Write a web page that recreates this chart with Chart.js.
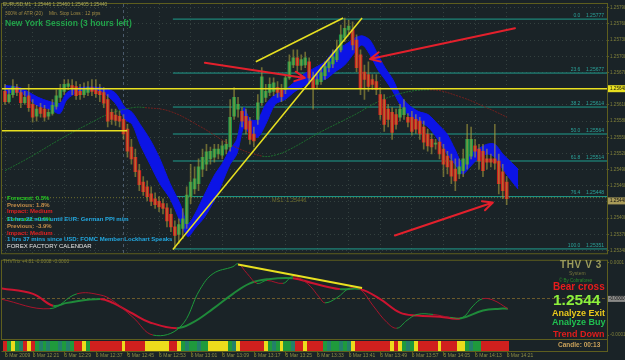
<!DOCTYPE html>
<html>
<head>
<meta charset="utf-8">
<script src="https://cdn.jsdelivr.net/npm/chart.js@4.4.1/dist/chart.umd.min.js"></script>
<style>
body { margin: 0; width: 625px; height: 360px; overflow: hidden; position: relative; background: #1a2327; }
canvas { position: absolute; left: 0; }
#main { top: 0; }
#osc { top: 257px; }
.t { position: absolute; white-space: nowrap; line-height: 1; font-family: "Liberation Sans", sans-serif; }
.b { font-weight: bold; }
</style>
</head>
<body>
<canvas id="main" width="625" height="257"></canvas>
<canvas id="osc" width="625" height="103"></canvas>

<div class="t" style="left:3px;top:3px;font-size:4.8px;color:#a9a95e">EURUSD,M1&nbsp; 1.25446 1.25460 1.25405 1.25440</div>
<div class="t" style="left:5px;top:12px;font-size:4.8px;color:#a08a44">300% of ATR (20)</div>
<div class="t" style="left:49px;top:12px;font-size:4.8px;color:#a08a44">Min. Stop Loss :</div>
<div class="t" style="left:85px;top:12px;font-size:4.8px;color:#a08a44">12 pips</div>
<div class="t b" style="left:5px;top:19px;font-size:8.5px;color:#22a24a">New York Session (3 hours left)</div>

<div class="t b" style="left:7px;top:195px;font-size:6px;color:#22cc22">Forecast: 0.3%</div>
<div class="t b" style="left:7px;top:202px;font-size:6px;color:#c8904a">Previous: 1.8%</div>
<div class="t b" style="left:7px;top:208px;font-size:6px;color:#e02222">Impact: Medium</div>
<div class="t b" style="left:7px;top:216px;font-size:6px;color:#22cc22">Forecast: -0.6%</div>
<div class="t b" style="left:7px;top:216px;font-size:6px;color:#22a8e0">11 hrs 22 mins until EUR: German PPI m/m</div>
<div class="t b" style="left:7px;top:223px;font-size:6px;color:#c8904a">Previous: -3.9%</div>
<div class="t b" style="left:7px;top:230px;font-size:6px;color:#e02222">Impact: Medium</div>
<div class="t b" style="left:7px;top:236px;font-size:6px;color:#22a8e0">1 hrs 37 mins since USD: FOMC Member Lockhart Speaks</div>
<div class="t" style="left:7px;top:243px;font-size:6px;color:#e6e6e6">FOREX FACTORY CALENDAR</div>
<div class="t" style="left:272px;top:198px;font-size:5.5px;color:#6e6e2e">MS1: 1.25446</div>

<div class="t" style="left:3px;top:260px;font-size:4.8px;color:#7e7e3a">THVTrix +4.81 -0.0008 -0.0000</div>
<div class="t b" style="left:560px;top:260px;font-size:10px;letter-spacing:0.6px;color:#9c9c5c">THV V 3</div>
<div class="t" style="left:569px;top:270.5px;font-size:5px;color:#74743a">System</div>
<div class="t" style="left:559px;top:278.5px;font-size:4.5px;color:#2a8a2a">© By Cobraforex</div>
<div class="t b" style="left:553px;top:282px;font-size:10px;color:#e81c1c">Bear cross</div>
<div class="t b" style="left:553px;top:291.5px;font-size:15.5px;color:#8cf03c">1.2544</div>
<div class="t b" style="left:552px;top:309px;font-size:9px;color:#e8c81c">Analyze Exit</div>
<div class="t b" style="left:552px;top:318px;font-size:9px;color:#20c050">Analyze Buy</div>
<div class="t b" style="left:553px;top:330px;font-size:9px;color:#e01c1c">Trend Down</div>
<div class="t b" style="left:558px;top:342px;font-size:6.5px;color:#c8a05a">Candle: 00:13</div>

<script>
// EURUSD M1 candles, one per minute from 12:14
const opens = [
    1.25643,1.25624,1.25637,1.25650,1.25641,1.25622,1.25635,1.25619,1.25597,1.25613,1.25610,1.25597,1.25602,1.25615,1.25632,1.25643,
    1.25652,1.25654,1.25652,1.25643,1.25637,1.25641,1.25650,1.25645,1.25643,1.25641,1.25628,1.25604,1.25599,1.25597,1.25591,1.25573,
    1.25540,1.25521,1.25496,1.25475,1.25466,1.25453,1.25444,1.25439,1.25435,1.25427,1.25415,1.25392,1.25378,1.25389,1.25398,1.25448,
    1.25462,1.25472,1.25499,1.25508,1.25518,1.25521,1.25527,1.25525,1.25536,1.25540,1.25597,1.25610,1.25606,1.25597,1.25588,1.25564,
    1.25591,1.25622,1.25632,1.25641,1.25643,1.25650,1.25646,1.25646,1.25668,1.25692,1.25705,1.25691,1.25692,1.25698,1.25668,1.25656,
    1.25661,1.25672,1.25687,1.25694,1.25702,1.25720,1.25742,1.25757,1.25757,1.25738,1.25711,1.25679,1.25674,1.25665,1.25661,1.25637,
    1.25628,1.25610,1.25604,1.25600,1.25595,1.25600,1.25595,1.25595,1.25591,1.25588,1.25577,1.25564,1.25554,1.25545,1.25549,1.25536,
    1.25523,1.25514,1.25499,1.25490,1.25496,1.25508,1.25523,1.25542,1.25536,1.25532,1.25518,1.25518,1.25518,1.25514,1.25494,1.25475
];
const closes = [
    1.25624,1.25637,1.25652,1.25641,1.25622,1.25632,1.25613,1.25595,1.25610,1.25602,1.25595,1.25604,1.25617,1.25635,1.25646,1.25656,
    1.25657,1.25648,1.25635,1.25637,1.25646,1.25650,1.25643,1.25639,1.25637,1.25621,1.25588,1.25591,1.25589,1.25588,1.25564,1.25532,
    1.25518,1.25494,1.25470,1.25457,1.25448,1.25439,1.25433,1.25429,1.25426,1.25403,1.25392,1.25376,1.25396,1.25407,1.25451,1.25475,
    1.25481,1.25503,1.25521,1.25531,1.25532,1.25536,1.25536,1.25542,1.25545,1.25595,1.25632,1.25619,1.25588,1.25573,1.25554,1.25551,
    1.25622,1.25670,1.25643,1.25656,1.25659,1.25641,1.25633,1.25668,1.25698,1.25705,1.25691,1.25702,1.25705,1.25668,1.25650,1.25665,
    1.25678,1.25689,1.25698,1.25707,1.25720,1.25748,1.25760,1.25764,1.25729,1.25687,1.25650,1.25665,1.25652,1.25656,1.25646,1.25600,
    1.25582,1.25591,1.25567,1.25582,1.25610,1.25613,1.25586,1.25569,1.25573,1.25564,1.25549,1.25542,1.25540,1.25547,1.25527,1.25508,
    1.25503,1.25486,1.25477,1.25503,1.25518,1.25554,1.25554,1.25532,1.25514,1.25496,1.25512,1.25512,1.25510,1.25472,1.25459,1.25444
];
const highs = [
    1.25656,1.25646,1.25665,1.25656,1.25646,1.25643,1.25656,1.25628,1.25617,1.25621,1.25617,1.25610,1.25628,1.25646,1.25656,1.25665,
    1.25665,1.25665,1.25661,1.25656,1.25659,1.25661,1.25665,1.25665,1.25656,1.25650,1.25637,1.25610,1.25610,1.25606,1.25600,1.25582,
    1.25554,1.25536,1.25508,1.25485,1.25477,1.25466,1.25455,1.25448,1.25444,1.25435,1.25426,1.25403,1.25407,1.25426,1.25466,1.25508,
    1.25503,1.25518,1.25536,1.25545,1.25540,1.25545,1.25545,1.25551,1.25554,1.25628,1.25650,1.25632,1.25613,1.25610,1.25595,1.25577,
    1.25637,1.25687,1.25656,1.25668,1.25668,1.25661,1.25656,1.25674,1.25711,1.25720,1.25720,1.25711,1.25716,1.25705,1.25679,1.25674,
    1.25687,1.25698,1.25705,1.25720,1.25738,1.25766,1.25779,1.25775,1.25772,1.25748,1.25720,1.25692,1.25698,1.25674,1.25674,1.25650,
    1.25637,1.25619,1.25613,1.25610,1.25619,1.25628,1.25602,1.25606,1.25600,1.25595,1.25588,1.25573,1.25564,1.25554,1.25558,1.25545,
    1.25532,1.25527,1.25518,1.25518,1.25536,1.25582,1.25577,1.25554,1.25545,1.25545,1.25536,1.25527,1.25582,1.25527,1.25508,1.25485
];
const lows = [
    1.25619,1.25621,1.25632,1.25635,1.25613,1.25619,1.25606,1.25586,1.25588,1.25595,1.25588,1.25591,1.25599,1.25610,1.25624,1.25637,
    1.25646,1.25637,1.25628,1.25628,1.25632,1.25635,1.25635,1.25632,1.25624,1.25613,1.25577,1.25582,1.25580,1.25577,1.25554,1.25521,
    1.25508,1.25485,1.25459,1.25450,1.25440,1.25431,1.25426,1.25420,1.25416,1.25392,1.25383,1.25352,1.25361,1.25370,1.25389,1.25435,
    1.25453,1.25459,1.25485,1.25496,1.25508,1.25512,1.25518,1.25518,1.25527,1.25532,1.25591,1.25595,1.25577,1.25564,1.25545,1.25540,
    1.25582,1.25617,1.25624,1.25635,1.25635,1.25632,1.25624,1.25639,1.25665,1.25687,1.25679,1.25683,1.25687,1.25657,1.25610,1.25650,
    1.25656,1.25665,1.25679,1.25687,1.25698,1.25716,1.25735,1.25748,1.25720,1.25679,1.25637,1.25628,1.25643,1.25646,1.25637,1.25591,
    1.25569,1.25577,1.25554,1.25573,1.25588,1.25591,1.25577,1.25562,1.25565,1.25554,1.25536,1.25532,1.25527,1.25536,1.25518,1.25485,
    1.25490,1.25472,1.25459,1.25481,1.25485,1.25499,1.25518,1.25521,1.25499,1.25485,1.25499,1.25503,1.25499,1.25453,1.25444,1.25433
];

// blue band (bar position, upper and lower edge)
const bandX = [0, 3.8, 8.1, 11.4, 13.9, 15.7, 19, 24, 27.8, 30.4, 32.2, 34.2, 36.7, 39.2, 41.8, 44.3, 46.3, 48.1, 50.6, 53.2,
    54.9, 57, 58.7, 60.5, 62, 64, 66, 68.4, 70.9, 73.4, 75.9, 78.5, 81, 83.5, 86, 88.6, 90.4, 92.4, 94.4, 96.2,
    98.2, 100, 102, 104.6, 107.1, 109.6, 111.9, 113.9, 115.9, 117.7, 119.7, 122, 124, 126, 127.8, 129.9];
const bandUpper = [1.25654, 1.25650, 1.25633, 1.25624, 1.25621, 1.25641, 1.25650, 1.25650, 1.25641, 1.25613, 1.25604, 1.25582,
    1.25554, 1.25518, 1.25472, 1.25435, 1.25398, 1.25416, 1.25453, 1.25490, 1.25508, 1.25536, 1.25554, 1.25613, 1.25591,
    1.25591, 1.25619, 1.25637, 1.25646, 1.25661, 1.25676, 1.25687, 1.25698, 1.25720, 1.25729, 1.25742, 1.25746, 1.25738,
    1.25711, 1.25687, 1.25665, 1.25637, 1.25619, 1.25606, 1.25600, 1.25582, 1.25564, 1.25536, 1.25508, 1.25527, 1.25536,
    1.25545, 1.25545, 1.25527, 1.25514, 1.25499];
const bandLower = [1.25639, 1.25641, 1.25617, 1.25610, 1.25602, 1.25628, 1.25643, 1.25643, 1.25622, 1.25591, 1.25582, 1.25545,
    1.25508, 1.25472, 1.25444, 1.25403, 1.25374, 1.25389, 1.25411, 1.25444, 1.25472, 1.25508, 1.25527, 1.25577, 1.25564,
    1.25558, 1.25582, 1.25619, 1.25628, 1.25643, 1.25654, 1.25665, 1.25665, 1.25679, 1.25692, 1.25716, 1.25729, 1.25711,
    1.25683, 1.25665, 1.25643, 1.25619, 1.25600, 1.25588, 1.25577, 1.25554, 1.25527, 1.25508, 1.25490, 1.25503, 1.25518,
    1.25527, 1.25521, 1.25499, 1.25481, 1.25462];

// slow moving average
const maX = [0, 6.3, 13.9, 21.5, 26.6, 32.4, 35.4, 41.8, 49.4, 57.7, 65.1, 68.4, 72.2, 79.7, 87.3, 97.5, 107.6, 115.2, 122.8, 127.1];
const maValues = [1.25496, 1.25521, 1.25554, 1.25584, 1.25602, 1.25613, 1.25613, 1.25606, 1.25578, 1.25542, 1.25523, 1.25525,
    1.25536, 1.25567, 1.25595, 1.25633, 1.25646, 1.25633, 1.25610, 1.25595];

// fibonacci retracement
const fibLevels = [0.0, 23.6, 38.2, 50.0, 61.8, 76.4, 100.0];
const fibPrices = [1.25777, 1.25677, 1.25614, 1.25564, 1.25514, 1.25448, 1.25351];
const fibStart = 42.5;

// yellow lines and arrows, [bar, price]
const levelLong = 1.25648;
const levelShort = 1.25570;
const levelShortEnd = 30.9;
const ms1Level = 1.25446;
const bidPrice = 1.25440;
const trendFrom = [[42.5, 1.25350], [63.5, 1.25698]];
const trendTo = [[90.4, 1.25779], [85.6, 1.25779]];
const arrowFrom = [[50.6, 1.25696], [129.1, 1.25760], [98.7, 1.25376]];
const arrowTo = [[75.9, 1.25668], [92.4, 1.25703], [123.5, 1.25437]];
const separatorBar = 29.9;

const priceTicks = [1.25798, 1.25768, 1.25738, 1.25708, 1.25678, 1.25648, 1.25618, 1.25588, 1.25558,
    1.25528, 1.25498, 1.25468, 1.25438, 1.25408, 1.25378, 1.25348];

const timeBars = [0, 7, 15, 23, 31, 39, 47, 55, 63, 71, 79, 87, 95, 103, 111, 119, 127];
const timeLabels = ['5 Mar 2009', '5 Mar 12:21', '5 Mar 12:29', '5 Mar 12:37', '5 Mar 12:45', '5 Mar 12:53',
    '5 Mar 13:01', '5 Mar 13:09', '5 Mar 13:17', '5 Mar 13:25', '5 Mar 13:33', '5 Mar 13:41', '5 Mar 13:49',
    '5 Mar 13:57', '5 Mar 14:05', '5 Mar 14:13', '5 Mar 14:21'];

// THVTrix oscillator
const fastX = [-1.3, 11.4, 18.2, 24.1, 27.3, 32.4, 37.5, 44.3, 49.4, 52.7, 57.7, 59, 61.3, 63.8, 66.3, 70.4, 72.9, 76.5,
    79.7, 81, 84, 87.3, 89.9, 93.2, 96.7, 99.2, 101.8, 104.3, 108.4, 112.7, 115.9, 118.5, 120.8, 123.5, 127.3];
const fastValues = [0.0000, -0.000027, 0.000014, 0.000011, -0.000005, -0.000051, -0.000100, -0.000078, 0.000027, 0.000070,
    0.000089, 0.000097, 0.000070, 0.000043, 0.000051, 0.000043, 0.000062, 0.000043, 0.000003, -0.000011, 0.000003,
    0.000030, 0.000027, -0.000019, -0.000065, -0.000081, -0.000059, -0.000043, -0.000043, -0.000051, -0.000051,
    -0.000019, 0.000000, -0.000003, -0.000027];
const slowX = [-1.3, 7.1, 12.2, 15.7, 24.1, 27.3, 32.4, 36.7, 43.5, 47.6, 52.7, 57.7, 62, 66.3, 72.9, 78, 84.8, 89.9,
    94.9, 100, 104.3, 110.1, 115.2, 121, 125.3, 127.3];
const slowValues = [0.000030, 0.000014, -0.000019, -0.000011, 0.000000, -0.000011, -0.000041, -0.000065, -0.000081,
    -0.000065, -0.000027, 0.000014, 0.000043, 0.000054, 0.000057, 0.000043, 0.000027, 0.000027, 0.000000, -0.000038,
    -0.000046, -0.000049, -0.000054, -0.000032, -0.000027, -0.000027];
const divergenceFrom = [59, 0.000095];
const divergenceTo = [90.4, 0.000030];
const oscTicks = [0.0001, 0, -0.0001];

// signal strip under the oscillator: R red, Y yellow, G green, T teal
const stripCodes = ('RGYGTRYR' + 'GTGTGGTGTG' + 'RRYG' + 'RRRRRRRR' + 'Y' + 'RRRRR' + 'YYYYYY' + 'RRY' + 'GTGGTGG' +
    'YYYYY' + 'GTY' + 'RRRRRRY' + 'GTGY' + 'GGTRRY' + 'RRRRGTGGTGTY' + 'RRRRRRRRRYRY' + 'GTGY' + 'RRRRRY' +
    'RRRRYY' + 'GTGG' + 'RRRRRRR').split('');
const stripColors = { R: '#d0201e', Y: '#ecdc1c', G: '#1f9a3c', T: '#23806a' };

const xMin = -0.76, xMax = 152.4;
const olive = '#5e5e1e';
const bars = opens.map((o, i) => i);

const line = (pts, color, width, order, dash) => ({
    type: 'line',
    data: pts.map(p => ({ x: p[0], y: p[1] })),
    borderColor: color, borderWidth: width, borderDash: dash || [],
    pointRadius: 0, tension: 0, order: order, fill: false
});

const slopeColor = (up, down) => c => c.p1.parsed.y >= c.p0.parsed.y ? up : down;

// Main price window
const mainDecor = {
    id: 'mainDecor',
    beforeDatasetsDraw(chart) {
        const { ctx, chartArea: a, scales: { x } } = chart;
        const sx = Math.round(x.getPixelForValue(separatorBar)) + 0.5;
        ctx.save();
        ctx.strokeStyle = '#4a5a6c';
        ctx.setLineDash([3, 3]);
        ctx.beginPath();
        ctx.moveTo(sx, a.top);
        ctx.lineTo(sx, a.bottom);
        ctx.stroke();
        ctx.restore();
    },
    afterDatasetsDraw(chart) {
        const { ctx, scales: { x, y } } = chart;
        ctx.save();
        ctx.font = '5px "Liberation Sans"';
        ctx.fillStyle = '#2aa39a';
        ctx.textAlign = 'right';
        ctx.textBaseline = 'bottom';
        fibLevels.forEach((lv, k) => {
            ctx.fillText(lv.toFixed(1) + '    ' + fibPrices[k].toFixed(5), 604, y.getPixelForValue(fibPrices[k]) - 1);
        });
        ctx.strokeStyle = '#e3202c';
        ctx.lineWidth = 2;
        ctx.lineCap = 'round';
        arrowFrom.forEach((f, k) => {
            const x1 = x.getPixelForValue(f[0]), y1 = y.getPixelForValue(f[1]);
            const x2 = x.getPixelForValue(arrowTo[k][0]), y2 = y.getPixelForValue(arrowTo[k][1]);
            const ang = Math.atan2(y2 - y1, x2 - x1);
            ctx.beginPath();
            ctx.moveTo(x1, y1);
            ctx.lineTo(x2, y2);
            [-0.45, 0.45].forEach(d => {
                ctx.moveTo(x2, y2);
                ctx.lineTo(x2 - 11 * Math.cos(ang + d), y2 - 11 * Math.sin(ang + d));
            });
            ctx.stroke();
        });
        ctx.restore();
    },
    afterDraw(chart) {
        const { ctx, chartArea: a, scales: { y } } = chart;
        ctx.save();
        ctx.strokeStyle = olive;
        ctx.lineWidth = 1;
        ctx.strokeRect(1.5, a.top - 0.5, a.right - 1, a.bottom - a.top + 1);
        ctx.font = '4.6px "Liberation Sans"';
        ctx.textBaseline = 'middle';
        [[levelLong, '#e8e020'], [bidPrice, '#a89a58']].forEach(([v, bg]) => {
            const py = y.getPixelForValue(v);
            ctx.fillStyle = bg;
            ctx.fillRect(a.right + 1, py - 3.5, 18, 7);
            ctx.fillStyle = '#111';
            ctx.fillText(v.toFixed(5), a.right + 3, py);
        });
        ctx.restore();
    }
};

new Chart(document.getElementById('main'), {
    type: 'bar',
    data: {
        datasets: [
            {
                data: bandX.map((v, k) => ({ x: v, y: bandUpper[k] })), type: 'line',
                borderColor: '#0c14e6', borderWidth: 1, pointRadius: 0, tension: 0.3, order: 10, fill: false
            },
            {
                data: bandX.map((v, k) => ({ x: v, y: bandLower[k] })), type: 'line',
                borderColor: '#0c14e6', borderWidth: 1, pointRadius: 0, tension: 0.3, order: 10,
                fill: '-1', backgroundColor: '#0c14e6'
            },
            {
                data: maX.map((v, k) => ({ x: v, y: maValues[k] })), type: 'line',
                borderWidth: 1, borderDash: [2, 1], pointRadius: 0, tension: 0.4, order: 9, fill: false,
                segment: { borderColor: slopeColor('#1d6e2e', '#74201e') }
            },
            ...fibPrices.map(p => line([[fibStart, p], [xMax, p]], '#1f9e8e', 1, 11)),
            line([[xMin, ms1Level], [xMax, ms1Level]], '#6e6e2e', 1, 11, [1, 2]),
            {
                data: bars.map(i => ({ x: i, y: [opens[i], closes[i]] })),
                backgroundColor: bars.map(i => closes[i] >= opens[i] ? '#1c9648' : '#d01c1c'),
                barThickness: 3, minBarLength: 1, grouped: false, order: 4
            },
            {
                data: bars.map(i => ({ x: i, y: [lows[i], highs[i]] })),
                backgroundColor: 'rgba(165,155,60,0.6)',
                barThickness: 1, grouped: false, order: 3
            },
            line([[xMin, levelLong], [xMax, levelLong]], '#e8e020', 1.5, 2),
            line([[xMin, levelShort], [levelShortEnd, levelShort]], '#e8e020', 1.5, 2),
            ...trendFrom.map((f, k) => line([f, trendTo[k]], '#e8e020', 1.5, 1))
        ]
    },
    options: {
        responsive: false,
        animation: false,
        events: [],
        layout: { padding: { left: 2, top: 4, right: 0, bottom: 2 } },
        plugins: { legend: { display: false }, tooltip: { enabled: false } },
        scales: {
            x: {
                type: 'linear', min: xMin, max: xMax, offset: false,
                afterBuildTicks: s => { s.ticks = timeBars.map(v => ({ value: v })); },
                afterFit: s => { s.height = 0; s.paddingLeft = 0; s.paddingRight = 0; },
                ticks: { display: false },
                grid: { color: '#34413f', drawTicks: false, offset: false },
                border: { display: false, dash: [1, 3] }
            },
            y: {
                position: 'right', min: 1.25343, max: 1.25805,
                afterBuildTicks: s => { s.ticks = priceTicks.map(v => ({ value: v })); },
                afterFit: s => { s.width = 18; },
                ticks: {
                    color: '#80803a', padding: 1, font: { size: 4.6, family: 'Liberation Sans' },
                    callback: v => v.toFixed(5)
                },
                grid: { color: '#34413f', tickColor: olive, tickLength: 2 },
                border: { display: false, dash: [1, 3] }
            }
        }
    },
    plugins: [mainDecor]
});

// THVTrix window with the signal strip
const oscDecor = {
    id: 'oscDecor',
    afterDraw(chart) {
        const { ctx, chartArea: a, scales: { x, y } } = chart;
        ctx.save();
        stripCodes.forEach((c, i) => {
            ctx.fillStyle = stripColors[c];
            ctx.fillRect(Math.round(x.getPixelForValue(i)) - 2, a.bottom + 2, 4, 10);
        });
        ctx.strokeStyle = olive;
        ctx.lineWidth = 1;
        ctx.strokeRect(1.5, a.top - 0.5, a.right - 1, a.bottom - a.top + 1);
        ctx.beginPath();
        ctx.moveTo(1.5, a.bottom + 12.5);
        ctx.lineTo(a.right + 0.5, a.bottom + 12.5);
        ctx.moveTo(a.right + 0.5, a.bottom);
        ctx.lineTo(a.right + 0.5, a.bottom + 13);
        timeBars.forEach(v => {
            const tx = Math.round(x.getPixelForValue(v)) + 0.5;
            ctx.moveTo(tx, a.bottom + 13);
            ctx.lineTo(tx, a.bottom + 17);
        });
        ctx.stroke();
        const py = y.getPixelForValue(0);
        ctx.fillStyle = '#8a8a88';
        ctx.fillRect(a.right + 1, py - 3, 18, 6);
        ctx.fillStyle = '#111';
        ctx.font = '4.6px "Liberation Sans"';
        ctx.textBaseline = 'middle';
        ctx.fillText('-0.0000', a.right + 2, py);
        ctx.restore();
    }
};

new Chart(document.getElementById('osc'), {
    type: 'line',
    data: {
        datasets: [
            {
                data: fastX.map((v, k) => ({ x: v, y: fastValues[k] })),
                borderWidth: 1, pointRadius: 0, tension: 0.4, order: 2,
                segment: { borderColor: slopeColor('#1e9a3c', '#a8142c') }
            },
            {
                data: slowX.map((v, k) => ({ x: v, y: slowValues[k] })),
                borderWidth: 2, pointRadius: 0, tension: 0.4, order: 3,
                segment: { borderColor: slopeColor('#1f8a3a', '#cc1430') }
            },
            line([divergenceFrom, divergenceTo], '#e8e020', 2, 1)
        ]
    },
    options: {
        responsive: false,
        animation: false,
        events: [],
        layout: { padding: { left: 2, top: 2, right: 0, bottom: 0 } },
        plugins: { legend: { display: false }, tooltip: { enabled: false } },
        scales: {
            x: {
                type: 'linear', min: xMin, max: xMax, position: 'bottom',
                afterBuildTicks: s => { s.ticks = timeBars.map(v => ({ value: v })); },
                afterFit: s => { s.height = 21; s.paddingLeft = 0; s.paddingRight = 0; },
                ticks: {
                    align: 'start', autoSkip: false, maxRotation: 0, padding: 14,
                    color: '#8c8c44', font: { size: 5, family: 'Liberation Sans' },
                    callback: v => timeLabels[timeBars.indexOf(v)] || ''
                },
                grid: { display: false, drawTicks: false },
                border: { display: false }
            },
            y: {
                position: 'right', min: -0.0001108, max: 0.0001054,
                afterBuildTicks: s => { s.ticks = oscTicks.map(v => ({ value: v })); },
                afterFit: s => { s.width = 18; },
                ticks: {
                    color: '#80803a', padding: 1, font: { size: 4.6, family: 'Liberation Sans' },
                    callback: v => v === 0 ? '' : v.toFixed(4)
                },
                grid: {
                    color: c => c.tick && c.tick.value === 0 ? '#6b5a2c' : 'transparent',
                    tickColor: olive, tickLength: 2
                },
                border: { display: false, dash: [3, 2] }
            }
        }
    },
    plugins: [oscDecor]
});
</script>
</body>
</html>
